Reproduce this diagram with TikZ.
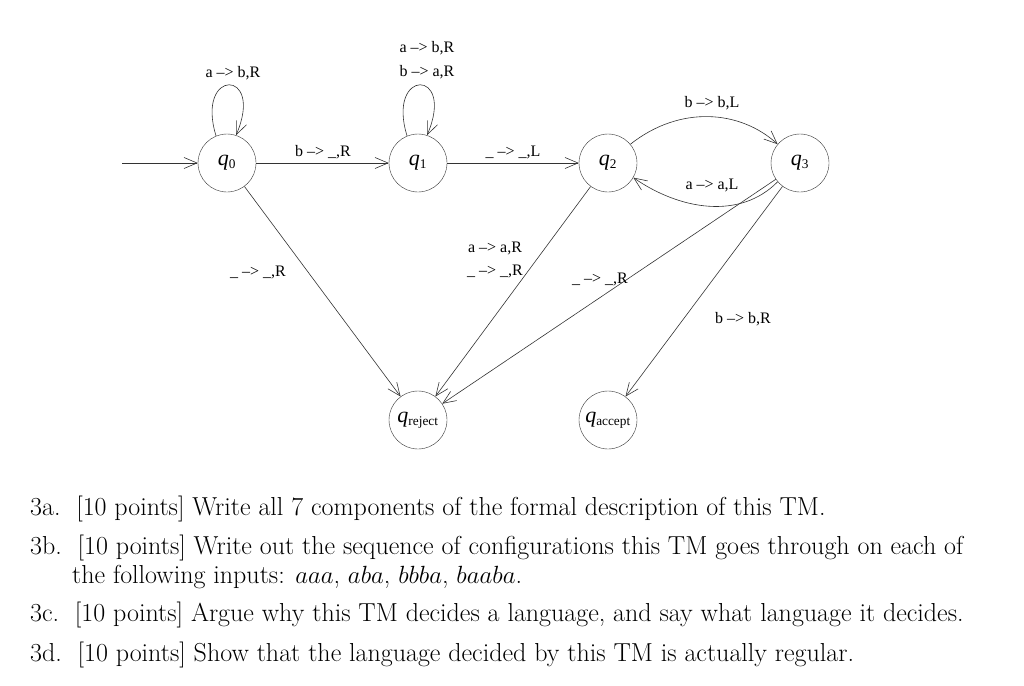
\documentclass[tikz,border=0pt]{standalone}
\usepackage{fontspec}
\newfontfamily\tms{Liberation Serif}
\usetikzlibrary{arrows.meta}
\newcommand{\qs}[1]{{\fontsize{22}{22}\selectfont\itshape q}\textsubscript{\upshape #1}}
\begin{document}
\begin{tikzpicture}[x=1pt,y=-1pt,
  st/.style={circle,draw=black!80,minimum size=58pt,inner sep=0pt,font=\tms\fontsize{19}{19}\selectfont},
  lab/.style={font=\tms\fontsize{16}{18}\selectfont,inner sep=1pt},
  tr/.style={draw=black!80,line width=0.6pt,-{Straight Barb[length=13pt,width=11pt,line width=0.6pt]}},
  q/.style={font=\fontsize{26}{30}\selectfont,anchor=north west,inner sep=0pt}]
\useasboundingbox (0,0) rectangle (1024,685);
\node[st] (q0) at (227,163) {\qs{0}};
\node[st] (q1) at (418,163) {\qs{1}};
\node[st] (q2) at (608,163) {\qs{2}};
\node[st] (q3) at (800,163) {\qs{3}};
\node[st] (qr) at (418,420) {\qs{reject}};
\node[st] (qa) at (608,420) {\qs{accept}};
\coordinate (s) at (122,163);
\draw[tr] (s) -- (q0);
\draw[tr] (q0.112) .. controls (195,68) and (265,68) .. (q0.72);
\draw[tr] (q1.112) .. controls (386,68) and (456,68) .. (q1.72);
\draw[tr] (q0) -- (q1);
\draw[tr] (q1) -- (q2);
\draw[tr] (q2.40) .. controls (680,105) and (740,110) .. (q3.140);
\draw[tr] (q3.220) .. controls (740,220) and (680,210) .. (q2.-30);
\draw[tr] (q0) -- (qr);
\draw[tr] (q2) -- (qr);
\draw[tr] (q3) -- (qr);
\draw[tr] (q3) -- (qa);
\node[lab] (l1) at (233,73) {a –> b,R};
\node[lab] (l2) at (427,48) {a –> b,R};
\node[lab] (l3) at (427,72) {b –> a,R};
\node[lab] (l4) at (323,152) {b –> \_,R};
\node[lab] (l5) at (513,152) {\_ –> \_,L};
\node[lab] (l6) at (712,103) {b –> b,L};
\node[lab] (l7) at (712,185) {a –> a,L};
\node[lab] (l8) at (258,272) {\_ –> \_,R};
\node[lab] (l9) at (495,248) {a –> a,R};
\node[lab] (l10) at (495,271) {\_ –> \_,R};
\node[lab] (l11) at (600,279) {\_ –> \_,R};
\node[lab] (l12) at (743,319) {b –> b,R};
\node[q] (t1) at (30,496) {3a.\ \ [10 points] Write all 7 components of the formal description of this TM.};
\node[q] (t2) at (30,535) {3b.\ \ [10 points] Write out the sequence of configurations this TM goes through on each of};
\node[q] (t2b) at (72,565) {the following inputs: $aaa$, $aba$, $bbba$, $baaba$.};
\node[q] (t3) at (30,602) {3c.\ \ [10 points] Argue why this TM decides a language, and say what language it decides.};
\node[q] (t4) at (30,642) {3d.\ \ [10 points] Show that the language decided by this TM is actually regular.};
\end{tikzpicture}
\end{document}
